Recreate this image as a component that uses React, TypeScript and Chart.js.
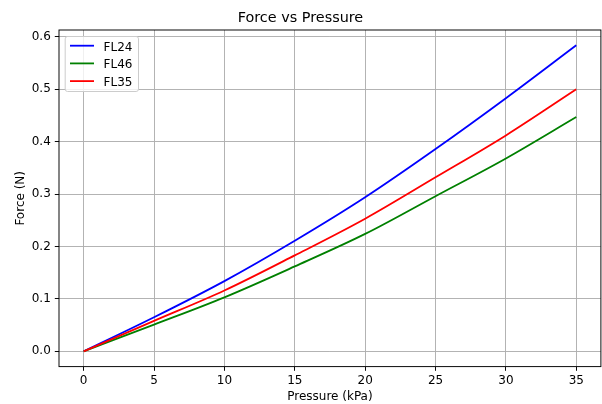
import { useEffect, useRef } from "react";
import { Chart, registerables } from "chart.js";

Chart.register(...registerables);

const pressure = [0, 5, 10, 15, 20, 25, 30, 35];
const fl24 = [0, 0.065, 0.134, 0.211, 0.294, 0.386, 0.483, 0.584];
const fl46 = [0, 0.051, 0.103, 0.162, 0.224, 0.296, 0.368, 0.447];
const fl35 = [0, 0.058, 0.116, 0.183, 0.253, 0.332, 0.412, 0.5];
const seriesLabels = ["FL24", "FL46", "FL35"];
const seriesColors = ["#0000ff", "#008000", "#ff0000"];
const xTicks = [0, 5, 10, 15, 20, 25, 30, 35];
const yTicks = [0, 0.1, 0.2, 0.3, 0.4, 0.5, 0.6];
const titleText = "Force vs Pressure";
const xLabel = "Pressure (kPa)";
const yLabel = "Force (N)";

const FONT = "'DejaVu Sans', sans-serif";

const framePlugin = {
  id: "frameAndLegend",
  afterDatasetsDraw(chart: any) {
    const { ctx, chartArea } = chart;
    const { left, top, right, bottom } = chartArea;
    ctx.save();
    ctx.strokeStyle = "#000";
    ctx.lineWidth = 0.96;
    ctx.strokeRect(left, top, right - left, bottom - top);

    // legend
    const bx = left + 6.2;
    const by = top + 6.5;
    const bw = 73.3;
    const bh = 55;
    const r = 2.4;
    ctx.beginPath();
    ctx.moveTo(bx + r, by);
    ctx.lineTo(bx + bw - r, by);
    ctx.arcTo(bx + bw, by, bx + bw, by + r, r);
    ctx.lineTo(bx + bw, by + bh - r);
    ctx.arcTo(bx + bw, by + bh, bx + bw - r, by + bh, r);
    ctx.lineTo(bx + r, by + bh);
    ctx.arcTo(bx, by + bh, bx, by + bh - r, r);
    ctx.lineTo(bx, by + r);
    ctx.arcTo(bx, by, bx + r, by, r);
    ctx.closePath();
    ctx.fillStyle = "rgba(255,255,255,0.8)";
    ctx.fill();
    ctx.strokeStyle = "#cccccc";
    ctx.lineWidth = 1;
    ctx.stroke();

    ctx.font = `12px ${FONT}`;
    ctx.textAlign = "left";
    ctx.textBaseline = "alphabetic";
    chart.data.datasets.forEach((ds: any, i: number) => {
      const cy = by + 9.2 + i * 17.7;
      ctx.beginPath();
      ctx.strokeStyle = ds.borderColor;
      ctx.lineWidth = 1.8;
      ctx.moveTo(bx + 4.8, cy);
      ctx.lineTo(bx + 28.8, cy);
      ctx.stroke();
      ctx.fillStyle = "#000";
      ctx.fillText(ds.label, bx + 38.4, cy + 5);
    });
    ctx.restore();
  },
};

export default function App() {
  const ref = useRef<HTMLCanvasElement | null>(null);

  useEffect(() => {
    if (!ref.current) return;
    const seriesValues = [fl24, fl46, fl35];
    const chart = new Chart(ref.current, {
      type: "line",
      data: {
        datasets: seriesValues.map((vals, i) => ({
          label: seriesLabels[i],
          data: pressure.map((p, j) => ({ x: p, y: vals[j] })),
          borderColor: seriesColors[i],
          backgroundColor: seriesColors[i],
          borderWidth: 1.8,
          pointRadius: 0,
          fill: false,
          cubicInterpolationMode: "monotone",
          order: 3 - i,
        })),
      },
      options: {
        animation: false,
        responsive: false,
        devicePixelRatio: 1,
        layout: { padding: { left: 0, right: 1.1, top: 0, bottom: 0 } },
        plugins: {
          legend: { display: false },
          tooltip: { enabled: false },
          title: {
            display: true,
            text: titleText,
            color: "#000",
            font: { family: FONT, size: 14.4, weight: "normal" },
            padding: { top: 9.7, bottom: 3.02 },
          },
        },
        scales: {
          x: {
            type: "linear",
            min: -1.75,
            max: 36.75,
            afterBuildTicks: (s: any) => {
              s.ticks = xTicks.map((v) => ({ value: v }));
            },
            afterFit: (s: any) => {
              s.height = 37.4;
            },
            ticks: {
              color: "#000",
              font: { family: FONT, size: 12 },
              padding: 2.5,
              maxRotation: 0,
              autoSkip: false,
              callback: (v: any) => String(v),
            },
            grid: {
              color: "#b0b0b0",
              lineWidth: 0.96,
              tickColor: "#000",
              tickLength: 4.2,
              tickWidth: 0.96,
            },
            border: { display: false },
            title: {
              display: true,
              text: xLabel,
              color: "#000",
              font: { family: FONT, size: 12 },
              padding: { top: 0, bottom: 0.3 },
            },
          },
          y: {
            type: "linear",
            min: -0.0292,
            max: 0.6132,
            afterBuildTicks: (s: any) => {
              s.ticks = yTicks.map((v) => ({ value: v }));
            },
            afterFit: (s: any) => {
              s.width = 59;
            },
            ticks: {
              color: "#000",
              font: { family: FONT, size: 12 },
              padding: 4,
              autoSkip: false,
              callback: (v: any) => Number(v).toFixed(1),
            },
            grid: {
              color: "#b0b0b0",
              lineWidth: 0.96,
              tickColor: "#000",
              tickLength: 4.2,
              tickWidth: 0.96,
            },
            border: { display: false },
            title: {
              display: true,
              text: yLabel,
              color: "#000",
              font: { family: FONT, size: 12 },
              padding: { top: 14.1, bottom: 0 },
            },
          },
        },
      } as any,
      plugins: [framePlugin],
    });
    return () => chart.destroy();
  }, []);

  return (
    <div style={{ position: "absolute", left: 0, top: 0, width: 602, height: 404, background: "#fff" }}>
      <canvas ref={ref} width={602} height={404} style={{ display: "block" }} />
    </div>
  );
}
